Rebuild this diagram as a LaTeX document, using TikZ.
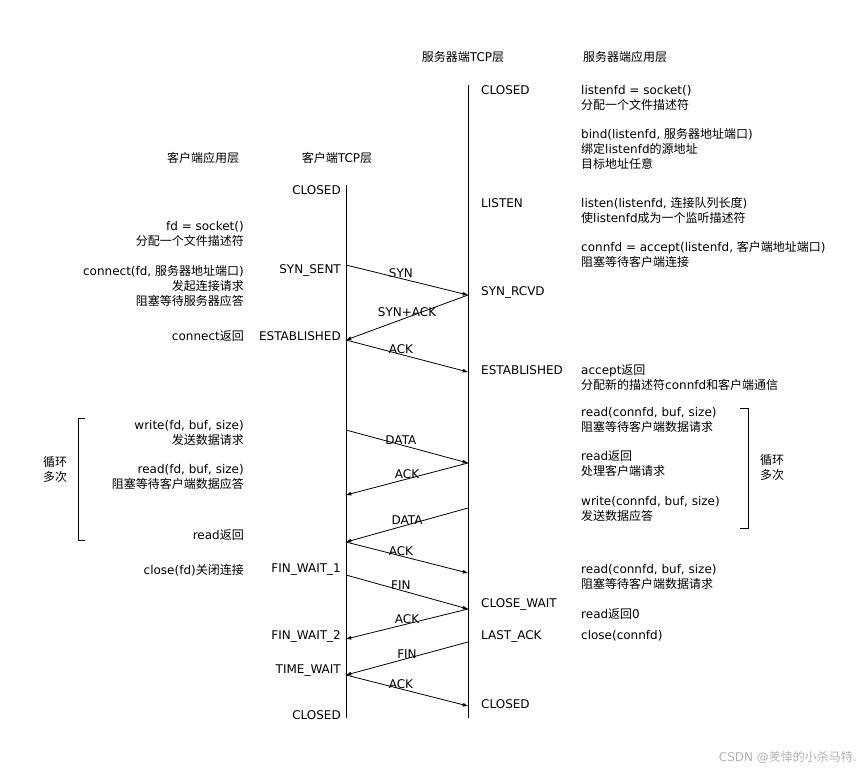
\documentclass[tikz,border=0pt]{standalone}
\usepackage{fontspec}
\setmainfont{DejaVu Sans}
\newfontfamily\cjk{Noto Sans CJK SC}
\newcommand{\zh}[1]{{\cjk #1}}
\usetikzlibrary{positioning}
\tikzset{
  txt/.style={font=\fontsize{12}{15}\selectfont, inner sep=1pt, align=left},
  lt/.style={txt, anchor=west},
  rt/.style={txt, anchor=east, align=right},
  msg/.style={thick, -latex},
}
\begin{document}
\begin{tikzpicture}[x=1pt,y=-1pt]
  \useasboundingbox (0,0) rectangle (863,772);
  % time lines
  \coordinate (ctop) at (346,185); \coordinate (cbot) at (346,718);
  \coordinate (stop) at (468,85);  \coordinate (sbot) at (468,718);
  \draw[thick] (ctop) -- (cbot);
  \draw[thick] (stop) -- (sbot);
  % headers
  \node[txt] (hst) at (463,57) {\zh{服务器端}TCP\zh{层}};
  \node[txt] (hsa) at (625,57) {\zh{服务器端应用层}};
  \node[txt] (hca) at (203,158) {\zh{客户端应用层}};
  \node[txt] (hct) at (337,158) {\zh{客户端}TCP\zh{层}};
  % server states
  \node[lt] (s1) at (480,90)  {CLOSED};
  \node[lt] (s2) at (480,203) {LISTEN};
  \node[lt] (s3) at (480,292) {SYN\_RCVD};
  \node[lt] (s4) at (480,370) {ESTABLISHED};
  \node[lt] (s5) at (480,604) {CLOSE\_WAIT};
  \node[lt] (s6) at (480,636) {LAST\_ACK};
  \node[lt] (s7) at (480,704) {CLOSED};
  % client states
  \node[rt] (c1) at (342,190) {CLOSED};
  \node[rt] (c2) at (342,270) {SYN\_SENT};
  \node[rt] (c3) at (342,336) {ESTABLISHED};
  \node[rt] (c4) at (342,570) {FIN\_WAIT\_1};
  \node[rt] (c5) at (342,636) {FIN\_WAIT\_2};
  \node[rt] (c6) at (342,671) {TIME\_WAIT};
  \node[rt] (c7) at (342,715) {CLOSED};
  % client application
  \node[rt] (ca1) at (245,234) {fd = socket()\\\zh{分配一个文件描述符}};
  \node[rt] (ca2) at (245,286) {connect(fd, \zh{服务器地址端口})\\\zh{发起连接请求}\\\zh{阻塞等待服务器应答}};
  \node[rt] (ca3) at (245,336) {connect\zh{返回}};
  \node[rt] (ca4) at (245,433) {write(fd, buf, size)\\\zh{发送数据请求}};
  \node[rt] (ca5) at (245,477) {read(fd, buf, size)\\\zh{阻塞等待客户端数据应答}};
  \node[rt] (ca6) at (245,535) {read\zh{返回}};
  \node[rt] (ca7) at (245,570) {close(fd)\zh{关闭连接}};
  % server application
  \node[lt] (sa1) at (580,98)  {listenfd = socket()\\\zh{分配一个文件描述符}};
  \node[lt] (sa2) at (580,149) {bind(listenfd, \zh{服务器地址端口})\\\zh{绑定}listenfd\zh{的源地址}\\\zh{目标地址任意}};
  \node[lt] (sa3) at (580,210) {listen(listenfd, \zh{连接队列长度})\\\zh{使}listenfd\zh{成为一个监听描述符}};
  \node[lt] (sa4) at (580,254) {connfd = accept(listenfd, \zh{客户端地址端口})\\\zh{阻塞等待客户端连接}};
  \node[lt] (sa5) at (580,378) {accept\zh{返回}\\\zh{分配新的描述符}connfd\zh{和客户端通信}};
  \node[lt] (sa6) at (580,420) {read(connfd, buf, size)\\\zh{阻塞等待客户端数据请求}};
  \node[lt] (sa7) at (580,464) {read\zh{返回}\\\zh{处理客户端请求}};
  \node[lt] (sa8) at (580,509) {write(connfd, buf, size)\\\zh{发送数据应答}};
  \node[lt] (sa9) at (580,577) {read(connfd, buf, size)\\\zh{阻塞等待客户端数据请求}};
  \node[lt] (sa10) at (580,614) {read\zh{返回}0};
  \node[lt] (sa11) at (580,636) {close(connfd)};
  % loop brackets
  \draw[thick] (85,418) -- (78,418) -- (78,540) -- (85,540);
  \node[txt, align=center] (lpl) at (55,469) {\zh{循环}\\\zh{多次}};
  \draw[thick] (740,408) -- (748,408) -- (748,528) -- (740,528);
  \node[txt, align=center] (lpr) at (772,467) {\zh{循环}\\\zh{多次}};
  % message points
  \foreach \n/\y in {a/265,b/340,c/430,d/495,e/542,f/575,g/639,h/675}
    \coordinate (L\n) at (346,\y);
  \foreach \n/\y in {a/295,b/372,c/463,d/508,e/573,f/609,g/642,h/706}
    \coordinate (R\n) at (468,\y);
  % messages
  \draw[msg] (La) -- node[txt, above=-1pt, pos=0.45] (m1) {SYN} (Ra);
  \draw[msg] (Ra) -- node[txt, above=-1pt, pos=0.5] (m2) {SYN+ACK} (Lb);
  \draw[msg] (Lb) -- node[txt, above=-1pt, pos=0.45] (m3) {ACK} (Rb);
  \draw[msg] (Lc) -- node[txt, above=-1pt, pos=0.45] (m4) {DATA} (Rc);
  \draw[msg] (Rc) -- node[txt, above=-1pt, pos=0.5] (m5) {ACK} (Ld);
  \draw[msg] (Rd) -- node[txt, above=-1pt, pos=0.5] (m6) {DATA} (Le);
  \draw[msg] (Le) -- node[txt, above=-1pt, pos=0.45] (m7) {ACK} (Re);
  \draw[msg] (Lf) -- node[txt, above=-1pt, pos=0.45] (m8) {FIN} (Rf);
  \draw[msg] (Rf) -- node[txt, above=-1pt, pos=0.5] (m9) {ACK} (Lg);
  \draw[msg] (Rg) -- node[txt, above=-1pt, pos=0.5] (m10) {FIN} (Lh);
  \draw[msg] (Lh) -- node[txt, above=-1pt, pos=0.45] (m11) {ACK} (Rh);
  % watermark
  \node[txt, text=black!30, anchor=east] (wm) at (858,757) {CSDN @\zh{羑悻的小杀马特}.};
\end{tikzpicture}
\end{document}
